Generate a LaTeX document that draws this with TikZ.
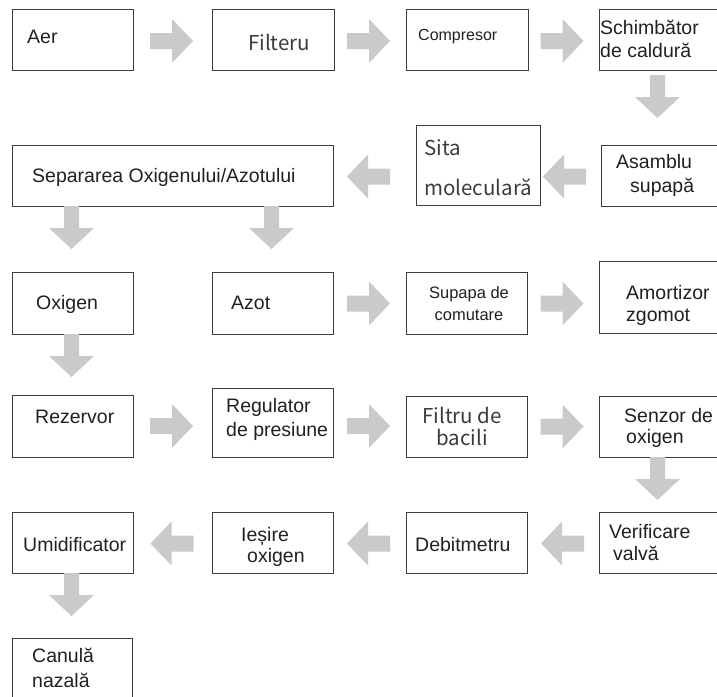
\documentclass[tikz,border=0pt]{standalone}
\usepackage{fontspec}
\setmainfont{Liberation Sans}
\newfontfamily\cjkfont{Noto Sans CJK SC}
\usetikzlibrary{calc}
\definecolor{arrowgray}{RGB}{201,202,201}
\definecolor{boxline}{RGB}{64,60,60}
\definecolor{txt}{RGB}{35,31,32}
\definecolor{txtlight}{RGB}{60,58,58}
\begin{document}
\begin{tikzpicture}[x=1pt,y=-1pt,
  box/.style={draw=boxline, line width=0.9pt, rectangle, anchor=north west, inner sep=0pt, outer sep=0pt},
  lbl/.style={anchor=base west, inner sep=0pt, text=txt, font=\fontsize{19.5}{23}\selectfont},
  lblsmall/.style={lbl, font=\fontsize{16}{20}\selectfont},
  lblmid/.style={anchor=base, inner sep=0pt, text=txt, font=\fontsize{16.5}{20}\selectfont},
  lblc/.style={anchor=base west, inner sep=0pt, text=txtlight, font=\cjkfont\fontsize{20.5}{24}\selectfont},
  lblcmid/.style={lblc, anchor=base},
  rarrow/.pic={\fill[arrowgray] (-21.5,-8)--(0.5,-8)--(0.5,-22)--(21.5,0)--(0.5,22)--(0.5,8)--(-21.5,8)--cycle;},
  larrow/.pic={\fill[arrowgray] (21.5,-8)--(-0.5,-8)--(-0.5,-22)--(-21.5,0)--(-0.5,22)--(-0.5,8)--(21.5,8)--cycle;},
  darrow/.pic={\fill[arrowgray] (-7.5,0)--(7.5,0)--(7.5,22)--(22.5,22)--(0,43)--(-22.5,22)--(-7.5,22)--cycle;}
]
\useasboundingbox (0,0) rectangle (717,696);

% boxes
\node[box, minimum width=121pt, minimum height=61pt] (aer) at (12,9) {};
\node[box, minimum width=122pt, minimum height=61pt] (filt) at (212,9) {};
\node[box, minimum width=122pt, minimum height=61pt] (comp) at (406,9) {};
\node[box, minimum width=120pt, minimum height=61pt] (schimb) at (599,9) {};
\node[box, minimum width=321pt, minimum height=61pt] (sep) at (12,145) {};
\node[box, minimum width=124pt, minimum height=80pt] (sita) at (416,125) {};
\node[box, minimum width=118pt, minimum height=61pt] (asamb) at (601,145) {};
\node[box, minimum width=121pt, minimum height=62pt] (oxi) at (12,272) {};
\node[box, minimum width=121pt, minimum height=62pt] (azot) at (212,272) {};
\node[box, minimum width=121pt, minimum height=62pt] (supapa) at (406,272) {};
\node[box, minimum width=120pt, minimum height=72pt] (amort) at (599,261) {};
\node[box, minimum width=121pt, minimum height=62pt] (rez) at (12,395) {};
\node[box, minimum width=121pt, minimum height=69pt] (reg) at (212,388) {};
\node[box, minimum width=121pt, minimum height=61pt] (filtru) at (406,396) {};
\node[box, minimum width=120pt, minimum height=61pt] (senzor) at (599,396) {};
\node[box, minimum width=121pt, minimum height=61pt] (umid) at (12,512) {};
\node[box, minimum width=121pt, minimum height=61pt] (iesire) at (212,512) {};
\node[box, minimum width=121pt, minimum height=61pt] (debit) at (406,512) {};
\node[box, minimum width=120pt, minimum height=61pt] (verif) at (599,512) {};
\node[box, minimum width=120pt, minimum height=80pt] (canula) at (12,638) {};

% texts
\node[lbl] (taer) at ($(aer.north west)+(15,34)$) {Aer};
\node[lblc] (tfilt) at ($(filt.north west)+(36,41)$) {Filteru};
\node[lblsmall] (tcomp) at ($(comp.north west)+(12,31)$) {Compresor};
\node[lbl] (tschimb1) at ($(schimb.north west)+(1,25)$) {Schimbător};
\node[lbl] (tschimb2) at ($(schimb.north west)+(1,48)$) {de caldură};
\node[lbl] (tsep) at ($(sep.north west)+(20,37)$) {Separarea Oxigenului/Azotului};
\node[lblc] (tsita1) at ($(sita.north west)+(8,30)$) {Sita};
\node[lblc] (tsita2) at ($(sita.north west)+(8,70)$) {moleculară};
\node[lbl] (tasamb1) at ($(asamb.north west)+(15,23)$) {Asamblu};
\node[lbl] (tasamb2) at ($(asamb.north west)+(29,47)$) {supapă};
\node[lbl] (toxi) at ($(oxi.north west)+(24,37)$) {Oxigen};
\node[lbl] (tazot) at ($(azot.north west)+(19,37)$) {Azot};
\node[lblmid] (tsupapa1) at ($(supapa.north west)+(63,26)$) {Supapa de};
\node[lblmid] (tsupapa2) at ($(supapa.north west)+(63,48)$) {comutare};
\node[lbl] (tamort1) at ($(amort.north west)+(27,38)$) {Amortizor};
\node[lbl] (tamort2) at ($(amort.north west)+(27,60)$) {zgomot};
\node[lbl] (trez) at ($(rez.north west)+(23,28)$) {Rezervor};
\node[lbl] (treg1) at ($(reg.north west)+(14,24)$) {Regulator};
\node[lbl] (treg2) at ($(reg.north west)+(14,48)$) {de presiune};
\node[lblcmid] (tfiltru1) at ($(filtru.north west)+(56,27)$) {Filtru de};
\node[lblcmid] (tfiltru2) at ($(filtru.north west)+(56,49)$) {bacili};
\node[lbl] (tsenzor1) at ($(senzor.north west)+(25,26)$) {Senzor de};
\node[lbl] (tsenzor2) at ($(senzor.north west)+(27,47)$) {oxigen};
\node[lbl] (tumid) at ($(umid.north west)+(11,39)$) {Umidificator};
\node[lbl] (tiesire1) at ($(iesire.north west)+(29,29)$) {Ieșire};
\node[lbl] (tiesire2) at ($(iesire.north west)+(35,50)$) {oxigen};
\node[lbl] (tdebit) at ($(debit.north west)+(9,39)$) {Debitmetru};
\node[lbl] (tverif1) at ($(verif.north west)+(10,26)$) {Verificare};
\node[lbl] (tverif2) at ($(verif.north west)+(14,48)$) {valvă};
\node[lbl] (tcanula1) at ($(canula.north west)+(20,24)$) {Canulă};
\node[lbl] (tcanula2) at ($(canula.north west)+(20,49)$) {nazală};

% arrows row 1
\pic at ($(aer.east)+(38.5,1.5)$) {rarrow};
\pic at ($(filt.east)+(34.5,1.5)$) {rarrow};
\pic at ($(comp.east)+(34,1.5)$) {rarrow};
\pic at ($(schimb.south west)+(58.5,5)$) {darrow};
% row 2
\pic at ($(asamb.west)+(-36.5,1)$) {larrow};
\pic at ($(sep.east)+(35.5,1)$) {larrow};
\pic at ($(sep.south west)+(59.5,0)$) {darrow};
\pic at ($(sep.south west)+(259.5,0)$) {darrow};
% row 3
\pic at ($(azot.east)+(35.5,0.5)$) {rarrow};
\pic at ($(supapa.east)+(35,0.5)$) {rarrow};
\pic at ($(oxi.south)+(-1,0)$) {darrow};
% row 4
\pic at ($(rez.east)+(38.5,0)$) {rarrow};
\pic at ($(reg.east |- rez.east)+(35.5,0)$) {rarrow};
\pic at ($(filtru.east)+(35,0)$) {rarrow};
\pic at ($(senzor.south west)+(58.5,0)$) {darrow};
% row 5
\pic at ($(debit.east)+(35.5,1)$) {larrow};
\pic at ($(iesire.east)+(35.5,1)$) {larrow};
\pic at ($(umid.east)+(39,1)$) {larrow};
\pic at ($(umid.south)+(-1,0)$) {darrow};
\end{tikzpicture}
\end{document}
